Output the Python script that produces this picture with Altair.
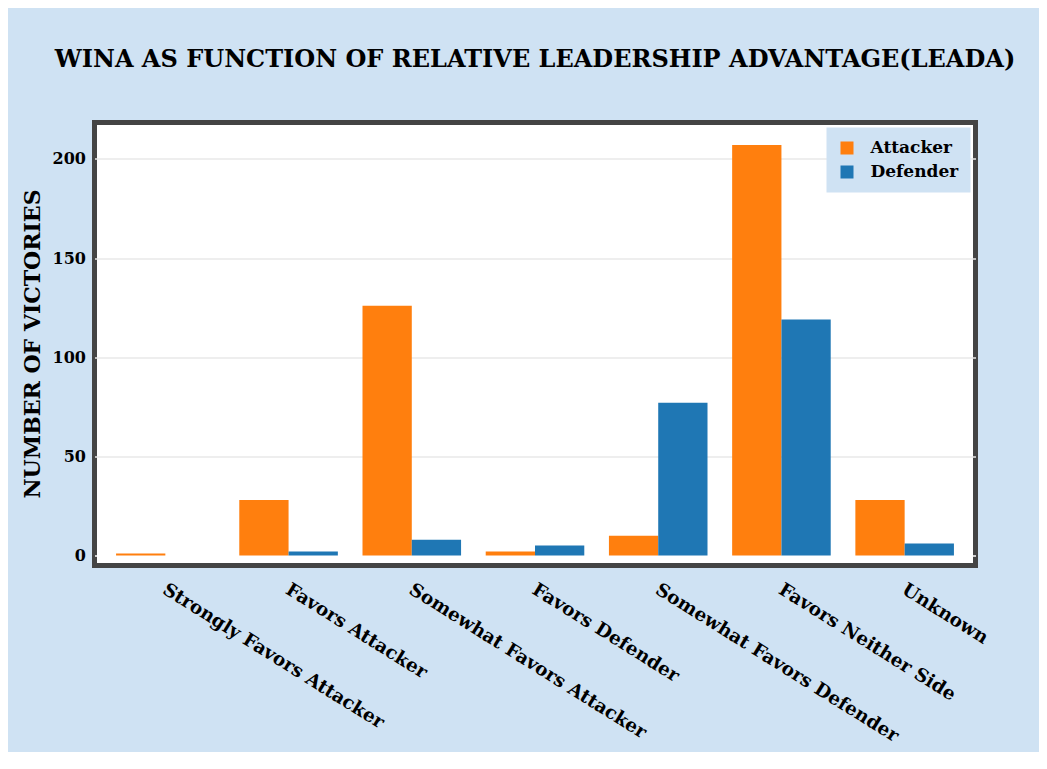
import altair as alt
import pandas as pd

categories = [
    "Strongly Favors Attacker",
    "Favors Attacker",
    "Somewhat Favors Attacker",
    "Favors Defender",
    "Somewhat Favors Defender",
    "Favors Neither Side",
    "Unknown",
]
series = ["Attacker", "Defender"]
attacker = [1, 28, 126, 2, 10, 207, 28]
defender = [0, 2, 8, 5, 77, 119, 6]
y_ticks = [0, 50, 100, 150, 200]
colors = ["#ff7f0e", "#1f77b4"]

rows = []
for c, a, d in zip(categories, attacker, defender):
    rows.append({"cat": c, "side": "Attacker", "n": a})
    rows.append({"cat": c, "side": "Defender", "n": d})
df = pd.DataFrame(rows)

FONT = "DejaVu Serif"
BG = "#cfe2f3"

chart = (
    alt.Chart(df)
    .mark_bar()
    .encode(
        x=alt.X(
            "cat:N",
            sort=categories,
            title=None,
            scale=alt.Scale(paddingInner=0.2, paddingOuter=0.175),
            axis=alt.Axis(
                labelAngle=32,
                labelAlign="left",
                labelBaseline="top",
                labelPadding=14,
                labelOffset=4,
                ticks=False,
                tickSize=0,
                domain=False,
                grid=False,
                labelFont=FONT,
                labelFontWeight="bold",
                labelFontSize=18.5,
                labelColor="black",
                labelLimit=0,
            ),
        ),
        xOffset=alt.XOffset(
            "side:N", sort=series, scale=alt.Scale(paddingInner=0, paddingOuter=0)
        ),
        y=alt.Y(
            "n:Q",
            title="NUMBER OF VICTORIES",
            scale=alt.Scale(domain=[-5.05, 218.4], nice=False),
            axis=alt.Axis(
                values=y_ticks,
                ticks=False,
                tickSize=0,
                domain=False,
                labelPadding=9,
                labelFont=FONT,
                labelFontWeight="bold",
                labelFontSize=16,
                labelColor="black",
                gridColor=alt.condition(
                    "datum.value === 0", alt.value("#ffffff"), alt.value("#e8e8e8")
                ),
                gridWidth=1.5,
                titleFont=FONT,
                titleFontWeight="bold",
                titleFontSize=22,
                titleColor="black",
                titleX=-50,
                titleY=221,
                titleAngle=270,
                titleAlign="center",
                titleBaseline="bottom",
            ),
        ),
        color=alt.Color(
            "side:N",
            sort=series,
            scale=alt.Scale(domain=series, range=colors),
            legend=alt.Legend(
                title=None,
                orient="top-right",
                offset=5,
                fillColor=BG,
                padding=12,
                symbolType="square",
                symbolSize=169,
                symbolStrokeWidth=0,
                symbolOpacity=1,
                labelFont=FONT,
                labelFontWeight="bold",
                labelFontSize=17,
                labelColor="black",
                labelOffset=15,
                rowPadding=6,
            ),
        ),
    )
    .properties(
        width=881,
        height=443,
        title=alt.Title(
            "WINA AS FUNCTION OF RELATIVE LEADERSHIP ADVANTAGE(LEADA)",
            font=FONT,
            fontSize=24,
            fontWeight="bold",
            color="black",
            anchor="middle",
            offset=51,
        ),
        autosize=alt.AutoSizeParams(type="none"),
        padding={"left": 86.5, "top": 114.5, "right": 63.5, "bottom": 186},
        background=BG,
    )
    .configure_view(stroke="#444444", strokeWidth=5, fill="white")
)

chart.save("out.html", embed_options={"renderer": "svg", "actions": False})
